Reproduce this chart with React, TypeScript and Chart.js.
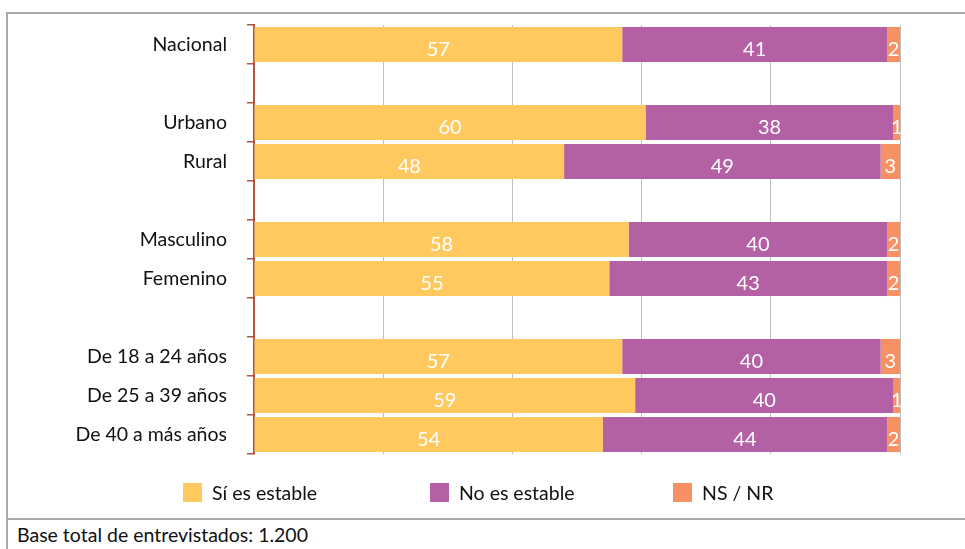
import React, { useEffect, useRef } from 'react';
import { Chart, registerables } from 'chart.js';

Chart.register(...registerables);

const categories = [
  'Nacional', '', 'Urbano', 'Rural', '', 'Masculino', 'Femenino', '',
  'De 18 a 24 años', 'De 25 a 39 años', 'De 40 a más años',
];
const siEstable = [57, null, 60, 48, null, 58, 55, null, 57, 59, 54];
const noEstable = [41, null, 38, 49, null, 40, 43, null, 40, 40, 44];
const nsNr = [2, null, 1, 3, null, 2, 2, null, 3, 1, 2];
const seriesNames = ['Sí es estable', 'No es estable', 'NS / NR'];
const seriesColors = ['#FFC95F', '#B360A5', '#F79163'];
const xTickStep = 20;
const footnote = 'Base total de entrevistados: 1.200';

const FONT = 'Lato, "Open Sans", sans-serif';
const AXIS_RED = '#B5533C';

const raw = [siEstable, noEstable, nsNr];
const totals = categories.map((_, i) =>
  raw.reduce((s, arr) => s + (arr[i] ?? 0), 0)
);

const labelPlugin = {
  id: 'segLabels',
  afterDatasetsDraw(chart: any) {
    const ctx = chart.ctx;
    ctx.save();
    ctx.fillStyle = '#FFFFFF';
    ctx.font = `20px ${FONT}`;
    ctx.textAlign = 'center';
    ctx.textBaseline = 'middle';
    chart.data.datasets.forEach((ds: any, di: number) => {
      const meta = chart.getDatasetMeta(di);
      meta.data.forEach((el: any, i: number) => {
        const v = ds.rawValues[i];
        if (v === null || v === undefined) return;
        const cx = (el.x + el.base) / 2;
        ctx.fillText(String(v), cx, el.y + 5);
      });
    });
    ctx.restore();
  },
};

const legendPlugin = {
  id: 'fixedLegend',
  afterDraw(chart: any) {
    const ctx = chart.ctx;
    const xs = [175, 422, 665];
    const top = 469;
    const size = 19;
    ctx.save();
    ctx.font = `19.5px ${FONT}`;
    ctx.textBaseline = 'middle';
    ctx.textAlign = 'left';
    seriesNames.forEach((name, i) => {
      ctx.fillStyle = seriesColors[i];
      ctx.fillRect(xs[i], top, size, size);
      ctx.fillStyle = '#111111';
      ctx.fillText(name, xs[i] + size + 10, top + size / 2 + 1);
    });
    ctx.restore();
  },
};

export default function App() {
  const ref = useRef<HTMLCanvasElement>(null);

  useEffect(() => {
    if (!ref.current) return;
    const chart = new Chart(ref.current, {
      type: 'bar',
      data: {
        labels: categories,
        datasets: raw.map((arr, di) => ({
          label: seriesNames[di],
          data: arr.map((v, i) => (v === null ? null : (v / totals[i]) * 100)),
          rawValues: arr,
          backgroundColor: seriesColors[di],
          borderWidth: 0,
          barPercentage: 0.9,
          categoryPercentage: 1,
        })) as any,
      },
      options: {
        indexAxis: 'y',
        animation: false,
        responsive: false,
        layout: { padding: { left: 0, right: 65, top: 11, bottom: 64 } },
        plugins: {
          legend: { display: false },
          tooltip: { enabled: false },
        },
        scales: {
          x: {
            stacked: true,
            min: 0,
            max: 100,
            ticks: { display: false, stepSize: xTickStep },
            grid: { color: '#BFBFBF', lineWidth: 1, drawTicks: false },
            border: { display: false },
            afterFit(scale: any) {
              scale.height = 0;
              scale.paddingLeft = 0;
              scale.paddingRight = 0;
            },
          },
          y: {
            stacked: true,
            offset: true,
            ticks: {
              color: '#111111',
              font: { family: FONT, size: 19.5 },
              padding: 20,
              autoSkip: false,
            },
            grid: {
              offset: true,
              drawOnChartArea: false,
              drawTicks: true,
              tickLength: 7,
              color: AXIS_RED,
              lineWidth: 1.5,
            },
            border: { display: true, color: AXIS_RED, width: 2 },
            afterFit(scale: any) {
              scale.width = 246;
              scale.paddingTop = 0;
              scale.paddingBottom = 0;
            },
          },
        },
      },
      plugins: [labelPlugin, legendPlugin],
    });
    return () => chart.destroy();
  }, []);

  return (
    <div
      style={{
        position: 'absolute',
        left: 6,
        top: 12,
        width: 959,
        borderTop: '2px solid #A8A8A8',
        borderLeft: '2px solid #A8A8A8',
        boxSizing: 'border-box',
        background: '#FFFFFF',
      }}
    >
      <div style={{ height: 504, borderBottom: '2px solid #A8A8A8' }}>
        <canvas ref={ref} width={957} height={504} style={{ display: 'block', width: 957, height: 504 }} />
      </div>
      <div
        style={{
          height: 29,
          lineHeight: '29px',
          paddingLeft: 9,
          fontFamily: FONT,
          fontSize: 19.5,
          color: '#111111',
          whiteSpace: 'nowrap',
        }}
      >
        {footnote}
      </div>
    </div>
  );
}
